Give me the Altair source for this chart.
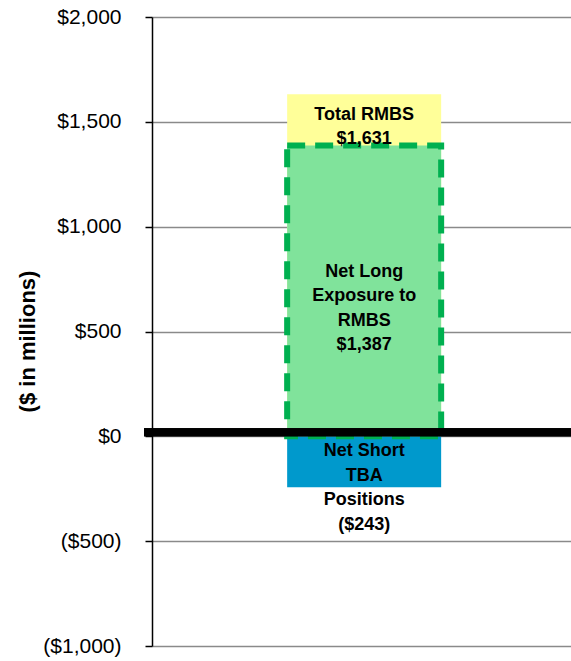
import altair as alt
import pandas as pd

# Segments of the RMBS position, in $ millions
segments = ["Total RMBS", "Net Long Exposure to RMBS", "Net Short TBA Positions"]
amounts = [1631, 1387, -243]
label_lines = [["Total RMBS"], ["Net Long", "Exposure to", "RMBS"], ["Net Short", "TBA", "Positions"]]
fills = ["#FFFF99", "#80E39B", "#0099CC"]
tick_values = [-1000, -500, 0, 500, 1000, 1500, 2000]

PLOT_W, PLOT_H = 419, 629


def money(v):
    return f"${v:,}" if v >= 0 else f"(${-v:,})"


df = pd.DataFrame({"segment": segments, "amount": amounts, "group": ["RMBS"] * 3})
df["label"] = ["\n".join(lines + [money(v)]) for lines, v in zip(label_lines, amounts)]
# text anchors: middle of the visible yellow strip, middle of the green box, the zero line
df["anchor"] = [(amounts[0] + amounts[1]) / 2, amounts[1] / 2, 0]

x_enc = alt.X(
    "group:N",
    axis=None,
    scale=alt.Scale(paddingInner=0, paddingOuter=0.8604, align=0.51),
)
y_scale = alt.Scale(domain=[-1000, 2000], nice=False, zero=True)
y_axis = alt.Axis(
    values=tick_values,
    labelExpr="datum.value < 0 ? '($' + format(-datum.value, ',') + ')' : '$' + format(datum.value, ',')",
    title="($ in millions)",
    titleFont="Liberation Sans",
    titleFontSize=22,
    titleFontWeight="bold",
    titleColor="#000000",
    titleAngle=-90,
    titleX=-125,
    titleY=324,
    titleAlign="center",
    titleBaseline="middle",
    labelFont="Liberation Sans",
    labelFontSize=21,
    labelColor="#000000",
    labelPadding=24,
    domainColor="#000000",
    domainWidth=1.5,
    tickColor="#000000",
    tickSize=7,
    tickWidth=1.5,
    grid=True,
    gridColor="#8a8a8a",
    gridWidth=1.5,
)


def y_enc(field):
    return alt.Y(f"{field}:Q", scale=y_scale, axis=y_axis)


base = alt.Chart(df)


def seg(i):
    return base.transform_filter(alt.datum.segment == segments[i])


total_bar = seg(0).mark_bar(color=fills[0]).encode(x=x_enc, y=y_enc("amount"))
short_bar = seg(2).mark_bar(color=fills[2]).encode(x=x_enc, y=y_enc("amount"))
long_bar = seg(1).mark_bar(
    color=fills[1], stroke="#00B050", strokeWidth=6, strokeDash=[18, 10]
).encode(x=x_enc, y=y_enc("amount"))

zero_line = base.mark_rule(color="#000000", strokeWidth=8, yOffset=-4).encode(
    y=alt.datum(0), x=alt.value(-8), x2=alt.value(PLOT_W)
)

# offset of each label's first line from its anchor
label_dy = [-5, -19, 15]
labels = [
    seg(i)
    .mark_text(
        font="Liberation Sans",
        fontSize=18,
        fontWeight="bold",
        color="#000000",
        lineBreak="\n",
        lineHeight=24.5,
        baseline="middle",
        align="center",
        dy=label_dy[i],
    )
    .encode(x=x_enc, y=y_enc("anchor"), text="label:N")
    for i in range(3)
]

chart = (
    alt.layer(total_bar, short_bar, long_bar, zero_line, *labels)
    .properties(
        width=PLOT_W,
        height=PLOT_H,
        autosize="none",
        padding={"left": 152, "top": 17, "right": 0, "bottom": 15},
        background="#FFFFFF",
    )
    .configure_view(strokeWidth=0)
)

chart.save("out.html", embed_options={"renderer": "svg", "actions": False})
